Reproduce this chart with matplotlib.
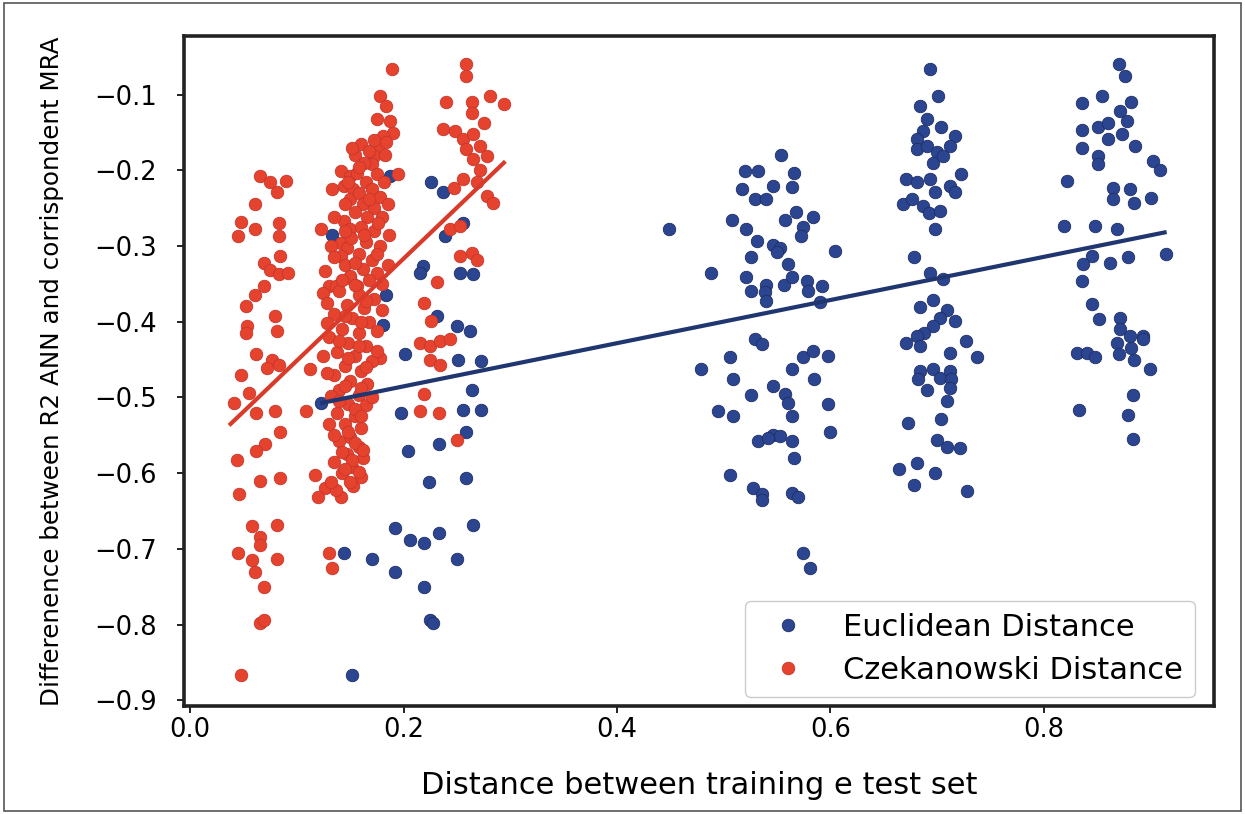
import numpy as np
import matplotlib
matplotlib.use("Agg")
import matplotlib.pyplot as plt
from matplotlib.patches import Rectangle

# ---------------- data ----------------
euclid_x = [
    0.133, 0.123, 0.144, 0.152, 0.187, 0.226, 0.237, 0.256, 0.239, 0.218, 0.215, 0.253, 0.265,
    0.184, 0.231, 0.181, 0.250, 0.262, 0.201, 0.251, 0.273, 0.264, 0.198, 0.256, 0.273, 0.259,
    0.204, 0.233, 0.224, 0.259, 0.192, 0.206, 0.219, 0.233, 0.265, 0.170, 0.192, 0.250, 0.219,
    0.225, 0.228,
    0.449, 0.488, 0.479, 0.509, 0.506, 0.495, 0.509, 0.506, 0.508, 0.517, 0.520, 0.532, 0.529,
    0.540, 0.546, 0.554, 0.566, 0.564, 0.521, 0.557, 0.568, 0.584, 0.574, 0.572, 0.531, 0.546,
    0.553, 0.550, 0.526, 0.604, 0.560, 0.521, 0.526, 0.540, 0.539, 0.540, 0.556, 0.564, 0.578,
    0.579, 0.592, 0.590, 0.529, 0.536, 0.564, 0.574, 0.584, 0.598, 0.585, 0.526, 0.546, 0.557,
    0.560, 0.564, 0.598, 0.600, 0.546, 0.553, 0.532, 0.541, 0.564, 0.566, 0.527, 0.536, 0.536,
    0.564, 0.570, 0.574, 0.581,
    0.693, 0.701, 0.684, 0.690, 0.687, 0.704, 0.717, 0.712, 0.681, 0.681, 0.690, 0.700, 0.696,
    0.705, 0.671, 0.681, 0.693, 0.698, 0.668, 0.676, 0.687, 0.692, 0.703, 0.722, 0.712, 0.717,
    0.698, 0.678, 0.693, 0.705, 0.696, 0.684, 0.709, 0.717, 0.703, 0.696, 0.688, 0.681, 0.671,
    0.684, 0.727, 0.712, 0.737, 0.684, 0.682, 0.696, 0.703, 0.712, 0.713, 0.690, 0.712, 0.709,
    0.673, 0.704, 0.700, 0.709, 0.721, 0.681, 0.664, 0.698, 0.678, 0.728,
    0.870, 0.876, 0.854, 0.836, 0.882, 0.871, 0.878, 0.836, 0.851, 0.860, 0.860, 0.873, 0.885,
    0.836, 0.851, 0.851, 0.902, 0.909, 0.822, 0.865, 0.865, 0.881, 0.884, 0.900, 0.819, 0.848,
    0.868, 0.845, 0.837, 0.862, 0.879, 0.914, 0.836, 0.845, 0.852, 0.871, 0.871, 0.881, 0.893,
    0.831, 0.840, 0.848, 0.868, 0.870, 0.882, 0.884, 0.893, 0.899, 0.883, 0.833, 0.879, 0.883,
]
euclid_y = [
    -0.285, -0.507, -0.706, -0.867, -0.207, -0.216, -0.229, -0.269, -0.287, -0.326, -0.335, -0.335, -0.337,
    -0.364, -0.393, -0.404, -0.406, -0.412, -0.443, -0.450, -0.452, -0.490, -0.520, -0.516, -0.516, -0.545,
    -0.571, -0.562, -0.612, -0.606, -0.673, -0.688, -0.692, -0.679, -0.668, -0.714, -0.730, -0.714, -0.750,
    -0.794, -0.798,
    -0.278, -0.335, -0.463, -0.476, -0.446, -0.518, -0.525, -0.603, -0.265, -0.225, -0.201, -0.201, -0.238,
    -0.238, -0.221, -0.180, -0.203, -0.222, -0.278, -0.265, -0.255, -0.262, -0.275, -0.287, -0.293, -0.298,
    -0.302, -0.308, -0.315, -0.307, -0.324, -0.341, -0.360, -0.351, -0.361, -0.373, -0.351, -0.341, -0.346,
    -0.360, -0.353, -0.374, -0.423, -0.429, -0.463, -0.447, -0.439, -0.445, -0.476, -0.497, -0.485, -0.496,
    -0.507, -0.525, -0.509, -0.546, -0.549, -0.551, -0.558, -0.553, -0.558, -0.580, -0.619, -0.628, -0.635,
    -0.626, -0.632, -0.705, -0.725,
    -0.066, -0.102, -0.115, -0.132, -0.148, -0.143, -0.155, -0.168, -0.159, -0.172, -0.168, -0.176, -0.190,
    -0.181, -0.212, -0.216, -0.212, -0.229, -0.245, -0.238, -0.247, -0.256, -0.254, -0.205, -0.221, -0.229,
    -0.278, -0.315, -0.335, -0.344, -0.371, -0.381, -0.384, -0.399, -0.395, -0.406, -0.415, -0.419, -0.428,
    -0.432, -0.426, -0.441, -0.446, -0.465, -0.476, -0.463, -0.474, -0.465, -0.476, -0.490, -0.487, -0.505,
    -0.534, -0.529, -0.556, -0.565, -0.567, -0.587, -0.595, -0.600, -0.615, -0.624,
    -0.060, -0.075, -0.102, -0.111, -0.110, -0.121, -0.135, -0.147, -0.143, -0.137, -0.159, -0.152, -0.168,
    -0.171, -0.181, -0.192, -0.188, -0.199, -0.214, -0.223, -0.238, -0.225, -0.243, -0.237, -0.274, -0.274,
    -0.278, -0.313, -0.324, -0.323, -0.315, -0.311, -0.346, -0.377, -0.397, -0.395, -0.410, -0.419, -0.419,
    -0.441, -0.441, -0.446, -0.428, -0.443, -0.434, -0.450, -0.423, -0.463, -0.497, -0.517, -0.523, -0.555,
]

czek_x = [
    0.066, 0.075, 0.081, 0.090, 0.061, 0.048, 0.045, 0.061, 0.083, 0.083, 0.069, 0.075, 0.084, 0.083,
    0.092, 0.069, 0.061, 0.052, 0.080, 0.081, 0.053, 0.052, 0.062, 0.077, 0.083, 0.072, 0.048, 0.112,
    0.055, 0.041, 0.062, 0.080, 0.084, 0.070, 0.062, 0.044, 0.066, 0.084, 0.046, 0.109, 0.117, 0.126,
    0.120, 0.141, 0.137, 0.153, 0.058, 0.066, 0.066, 0.045, 0.058, 0.061, 0.081, 0.081, 0.069, 0.066,
    0.069, 0.048, 0.130, 0.133,
    0.155, 0.141, 0.150, 0.156, 0.133, 0.144, 0.153, 0.150, 0.123, 0.144, 0.150, 0.141, 0.147, 0.141,
    0.126, 0.130, 0.125, 0.137, 0.150, 0.156,
    0.189, 0.178, 0.184, 0.175, 0.187, 0.190, 0.181, 0.176, 0.184, 0.172, 0.170, 0.195,
    0.259, 0.259, 0.240, 0.264, 0.264, 0.281, 0.294, 0.237, 0.248, 0.256, 0.265, 0.275, 0.259, 0.272,
    0.265, 0.278, 0.272, 0.247, 0.256, 0.278, 0.284, 0.269, 0.244, 0.253, 0.253, 0.264, 0.269, 0.231,
    0.219, 0.226, 0.215, 0.225, 0.234, 0.244, 0.225, 0.234, 0.178, 0.219, 0.215, 0.233, 0.250,
    0.160, 0.168, 0.163, 0.175, 0.165, 0.158, 0.170, 0.178, 0.162, 0.172, 0.155, 0.166, 0.180, 0.160,
    0.172, 0.151, 0.165, 0.178, 0.158, 0.170, 0.145, 0.162, 0.175, 0.150, 0.168, 0.140, 0.158, 0.172,
    0.147, 0.163, 0.135, 0.152, 0.168, 0.142, 0.158, 0.130, 0.148, 0.165, 0.138, 0.155, 0.170, 0.145,
    0.160, 0.135, 0.150, 0.166, 0.140, 0.158, 0.148, 0.165, 0.138, 0.155, 0.145, 0.160, 0.150, 0.140,
    0.158, 0.147, 0.162, 0.152, 0.142, 0.160,
    0.152, 0.172, 0.183, 0.158, 0.148, 0.182, 0.168, 0.185, 0.145, 0.176, 0.135, 0.163, 0.145, 0.186,
    0.132, 0.175, 0.155, 0.185, 0.135, 0.142, 0.180, 0.155, 0.128, 0.165, 0.180, 0.145, 0.175, 0.160,
    0.128, 0.140, 0.158, 0.175, 0.125, 0.148, 0.165, 0.128, 0.145, 0.160, 0.132, 0.170, 0.140, 0.155,
    0.130, 0.160, 0.148, 0.135, 0.155, 0.142, 0.162, 0.135, 0.152, 0.145, 0.158, 0.132, 0.150,
]
czek_y = [
    -0.207, -0.216, -0.229, -0.214, -0.245, -0.268, -0.287, -0.278, -0.269, -0.287, -0.322, -0.331, -0.313, -0.337,
    -0.335, -0.353, -0.364, -0.379, -0.393, -0.412, -0.406, -0.415, -0.443, -0.450, -0.457, -0.461, -0.470, -0.463,
    -0.494, -0.507, -0.520, -0.518, -0.545, -0.562, -0.571, -0.582, -0.611, -0.606, -0.627, -0.518, -0.603, -0.620,
    -0.631, -0.631, -0.622, -0.617, -0.670, -0.684, -0.695, -0.705, -0.715, -0.730, -0.669, -0.713, -0.750, -0.798,
    -0.794, -0.867, -0.706, -0.725,
    -0.180, -0.201, -0.207, -0.203, -0.225, -0.221, -0.225, -0.238, -0.278, -0.267, -0.278, -0.296, -0.302, -0.313,
    -0.333, -0.353, -0.362, -0.353, -0.342, -0.353,
    -0.066, -0.102, -0.115, -0.132, -0.135, -0.150, -0.155, -0.168, -0.163, -0.181, -0.192, -0.205,
    -0.060, -0.075, -0.110, -0.110, -0.124, -0.102, -0.113, -0.146, -0.148, -0.159, -0.152, -0.137, -0.172, -0.168,
    -0.185, -0.181, -0.199, -0.223, -0.212, -0.234, -0.243, -0.216, -0.278, -0.274, -0.313, -0.309, -0.318, -0.348,
    -0.375, -0.399, -0.428, -0.432, -0.426, -0.423, -0.450, -0.457, -0.448, -0.496, -0.518, -0.520, -0.556,
    -0.165, -0.175, -0.190, -0.205, -0.215, -0.230, -0.225, -0.235, -0.245, -0.250, -0.255, -0.262, -0.262, -0.275,
    -0.280, -0.290, -0.295, -0.300, -0.310, -0.318, -0.325, -0.330, -0.335, -0.340, -0.345, -0.360, -0.365, -0.370,
    -0.378, -0.382, -0.390, -0.395, -0.400, -0.410, -0.415, -0.420, -0.428, -0.432, -0.440, -0.445, -0.452, -0.458,
    -0.465, -0.470, -0.478, -0.482, -0.490, -0.497, -0.508, -0.510, -0.520, -0.525, -0.535, -0.540, -0.552, -0.558,
    -0.565, -0.575, -0.580, -0.592, -0.600, -0.605,
    -0.170, -0.160, -0.180, -0.195, -0.215, -0.215, -0.238, -0.245, -0.245, -0.270, -0.262, -0.285, -0.280, -0.285,
    -0.300, -0.310, -0.322, -0.325, -0.315, -0.345, -0.350, -0.352, -0.375, -0.372, -0.385, -0.392, -0.412, -0.400,
    -0.402, -0.425, -0.432, -0.438, -0.445, -0.448, -0.460, -0.468, -0.485, -0.488, -0.498, -0.500, -0.505, -0.515,
    -0.535, -0.525, -0.545, -0.550, -0.560, -0.572, -0.570, -0.585, -0.582, -0.595, -0.598, -0.612, -0.612,
]

# fitted trend lines (end points)
euclid_fit_x = [0.124, 0.913]
euclid_fit_y = [-0.507, -0.282]
czek_fit_x = [0.038, 0.294]
czek_fit_y = [-0.535, -0.190]

x_ticks = [0.0, 0.2, 0.4, 0.6, 0.8]
y_ticks = [-0.1, -0.2, -0.3, -0.4, -0.5, -0.6, -0.7, -0.8, -0.9]
series_labels = ["Euclidean Distance", "Czekanowski Distance"]
x_label = "Distance between training e test set"
y_label = "Differenence between R2 ANN and corrispondent MRA"

# ---------------- styling ----------------
BLUE = "#2b4590"
BLUE_LINE = "#1f3670"
RED = "#e6432f"
RED_LINE = "#d93a2a"

plt.rcParams['font.family'] = ['DejaVu Sans']

fig = plt.figure(figsize=(12.45, 8.14), dpi=100)
ax = fig.add_axes([0.1475, 0.1332, 0.8276, 0.8225])

ax.plot(euclid_x, euclid_y, 'o', color=BLUE, markersize=9, markeredgewidth=0.6,
        markeredgecolor="#1e2f66", label=series_labels[0], zorder=2)
ax.plot(czek_x, czek_y, 'o', color=RED, markersize=9, markeredgewidth=0.6,
        markeredgecolor="#c8352a", label=series_labels[1], zorder=3)

ax.plot(euclid_fit_x, euclid_fit_y, '-', color=BLUE_LINE, lw=3, zorder=4)
ax.plot(czek_fit_x, czek_fit_y, '-', color=RED_LINE, lw=3, zorder=4)

ax.set_xlim(-0.006, 0.9593)
ax.set_ylim(-0.907, -0.0226)
ax.set_xticks(x_ticks)
ax.set_xticklabels([f"{v:.1f}" for v in x_ticks])
ax.set_yticks(y_ticks)
ax.set_yticklabels([f"\u2212{abs(v):.1f}" for v in y_ticks])
ax.tick_params(axis='both', labelsize=18.5, length=5, width=1.4, color="#222222")
ax.tick_params(axis='x', pad=3)
ax.tick_params(axis='y', pad=14)
for s in ax.spines.values():
    s.set_linewidth(2.6)
    s.set_color("#222222")

ax.set_xlabel(x_label, fontsize=22)
ax.xaxis.set_label_coords(0.5, -0.0975)
ax.set_ylabel(y_label, fontsize=17.7)
ax.yaxis.set_label_coords(-0.116, 0.5)

leg = ax.legend(loc='lower right', bbox_to_anchor=(0.9816, 0.0128), borderaxespad=0,
                fontsize=22, numpoints=1, frameon=True,
                handletextpad=0.8, labelspacing=0.45,
                fancybox=True, edgecolor="#cccccc", framealpha=1.0)

fig.patches.append(Rectangle((0.003, 0.004), 0.994, 0.992, transform=fig.transFigure,
                             fill=False, edgecolor="#555555", lw=1.2))

fig.savefig("out.png", dpi=100)
